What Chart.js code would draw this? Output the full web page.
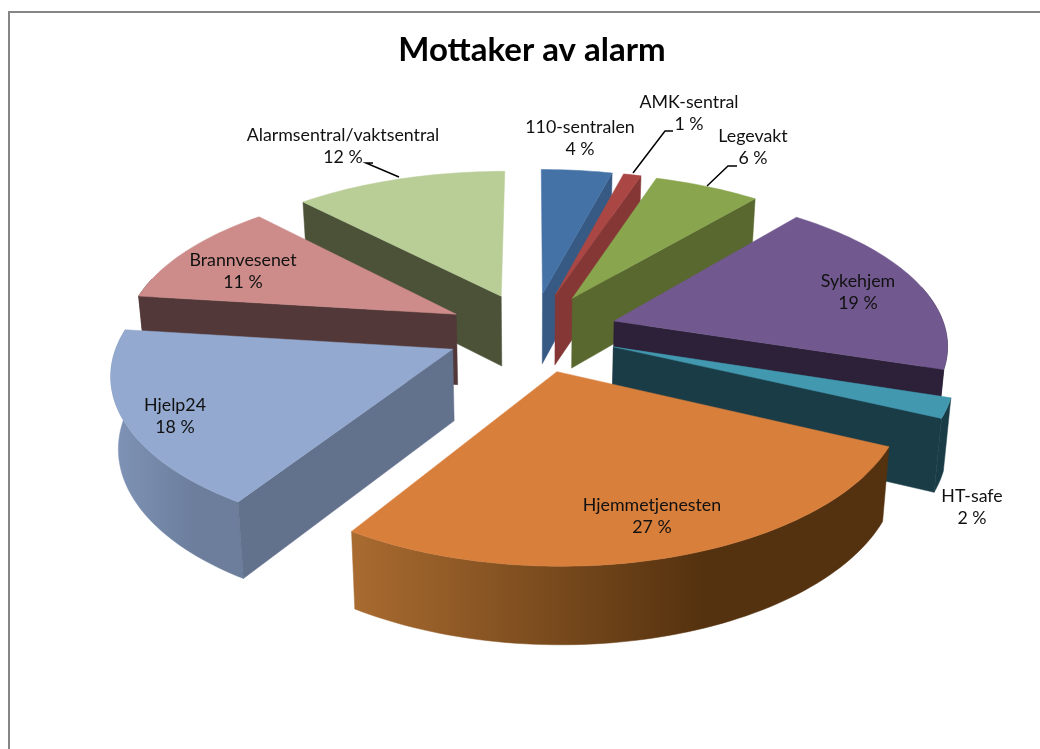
<!DOCTYPE html>
<html>
<head>
<meta charset="utf-8">
<script src="https://cdn.jsdelivr.net/npm/chart.js@4"></script>
<style>
html, body { margin: 0; padding: 0; background: #fff; overflow: hidden; }
canvas { display: block; }
</style>
</head>
<body>
<canvas id="pie-canvas" width="1040" height="749"></canvas>
<script>
var titleText = "Mottaker av alarm";
var categories = ["110-sentralen", "AMK-sentral", "Legevakt", "Sykehjem", "HT-safe", "Hjemmetjenesten", "Hjelp24", "Brannvesenet", "Alarmsentral/vaktsentral"];
var shares = [4, 1, 6, 19, 2, 27, 18, 11, 12];

var topColors = ["#4472a6", "#aa4643", "#89a54e", "#71588f", "#4198af", "#d87f3c", "#93a9cf", "#cd8c8a", "#b9cd96"];
var cutColors = ["#375a85", "#843735", "#58682f", "#2c2138", "#1a3c47", "#52320f", "#62718c", "#523838", "#4b5238"];
var wallStart = ["#375a85", "#843735", "#58682f", "#2c2138", "#1a3c47", "#a96b30", "#8094b8", "#523838", "#4b5238"];
var wallEnd = ["#375a85", "#843735", "#58682f", "#2c2138", "#1a3c47", "#55320f", "#6c7e9c", "#523838", "#4b5238"];

// where the text sits: [centre x, first line y]
var labelSpots = [[580, 127], [689, 102], [753, 136], [858, 281], [972, 496], [652, 505], [175, 405], [243, 260], [343, 135]];
var leaderLines = [
    [[673, 131], [665, 131], [633, 173]],
    [[737, 166], [728, 166], [707, 186]],
    [[373, 163], [366, 163], [399, 177]]
];

// camera of the tilted pie
var view = { cx: 532, cy: 332, rx: 332, ry: 153, perspX: 0.135, perspY: 0.147, depth: 71, taper: 0.982, explode: 0.26 };

function project(px, py) {
    var s = 1 / (1 + view.perspY * py);
    return {
        x: view.cx + view.rx * px / (1 + view.perspX * py),
        y: view.cy - view.ry * py * s,
        h: view.depth * Math.sqrt(s)
    };
}

function lower(p) {
    return { x: view.cx + (p.x - view.cx) * view.taper, y: p.y + p.h };
}

function fillPoly(ctx, pts, fill) {
    ctx.beginPath();
    pts.forEach(function(p, i) {
        if (i == 0) ctx.moveTo(p.x, p.y); else ctx.lineTo(p.x, p.y);
    });
    ctx.closePath();
    ctx.fillStyle = fill;
    ctx.fill();
    ctx.strokeStyle = fill;
    ctx.lineWidth = 0.5;
    ctx.stroke();
}

var pie3d = {
    id: "pie3d",
    beforeDraw: function(chart) {
        var ctx = chart.ctx;
        ctx.save();
        ctx.strokeStyle = "#868686";
        ctx.lineWidth = 2;
        ctx.strokeRect(9, 12, 1200, 900);
        ctx.restore();
    },
    beforeDatasetsDraw: function(chart) {
        var ctx = chart.ctx;
        var arcs = chart.getDatasetMeta(0).data;
        var slices = arcs.map(function(arc, i) {
            var a0 = arc.startAngle + Math.PI / 2;
            var a1 = arc.endAngle + Math.PI / 2;
            return { i: i, a0: a0, a1: a1, mid: (a0 + a1) / 2 };
        });
        // back slices first
        slices.sort(function(p, q) { return Math.cos(q.mid) - Math.cos(p.mid); });

        ctx.save();
        slices.forEach(function(sl) {
            var ox = view.explode * Math.sin(sl.mid);
            var oy = view.explode * Math.cos(sl.mid);
            var apex = project(ox, oy);
            var rim = [];
            var steps = Math.max(4, Math.ceil((sl.a1 - sl.a0) * 40));
            for (var k = 0; k <= steps; k++) {
                var a = sl.a0 + (sl.a1 - sl.a0) * k / steps;
                var p = project(ox + Math.sin(a), oy + Math.cos(a));
                p.front = Math.cos(a) < 0.25;
                rim.push(p);
            }

            // outer wall, one polygon so the gradient has no seams
            var xs = rim.map(function(p) { return p.x; });
            var minX = Math.min.apply(null, xs), maxX = Math.max.apply(null, xs);
            var grad = ctx.createLinearGradient(minX, 0, minX + (maxX - minX) * 0.65 + 1, 0);
            grad.addColorStop(0, wallStart[sl.i]);
            grad.addColorStop(1, wallEnd[sl.i]);
            var front = rim.filter(function(p) { return p.front; });
            if (front.length > 1) {
                fillPoly(ctx, front.concat(front.map(lower).reverse()), grad);
            }

            // cut faces: the far edge faces us on the right half, the near edge on the left
            var first = rim[0], last = rim[rim.length - 1];
            if (sl.a1 <= Math.PI) fillPoly(ctx, [apex, last, lower(last), lower(apex)], cutColors[sl.i]);
            if (sl.a0 >= Math.PI) fillPoly(ctx, [apex, first, lower(first), lower(apex)], cutColors[sl.i]);

            // top face
            fillPoly(ctx, [apex].concat(rim), topColors[sl.i]);
        });
        ctx.restore();
        return false;
    },
    afterDraw: function(chart) {
        var ctx = chart.ctx;
        ctx.save();
        ctx.strokeStyle = "#000";
        ctx.lineWidth = 1.5;
        leaderLines.forEach(function(line) {
            ctx.beginPath();
            line.forEach(function(p, i) {
                if (i == 0) ctx.moveTo(p[0], p[1]); else ctx.lineTo(p[0], p[1]);
            });
            ctx.stroke();
        });
        ctx.fillStyle = "#111";
        ctx.font = "17.8px Lato";
        ctx.textAlign = "center";
        ctx.textBaseline = "middle";
        categories.forEach(function(name, i) {
            ctx.fillText(name, labelSpots[i][0], labelSpots[i][1]);
            ctx.fillText(shares[i] + " %", labelSpots[i][0], labelSpots[i][1] + 22);
        });
        ctx.restore();
    }
};

window.onload = function() {
    var ctx = document.getElementById("pie-canvas").getContext("2d");
    window.myPie = new Chart(ctx, {
        type: "pie",
        data: {
            labels: categories,
            datasets: [{ data: shares, backgroundColor: topColors }]
        },
        options: {
            responsive: false,
            animation: false,
            layout: { padding: { left: 24 } },
            plugins: {
                legend: { display: false },
                tooltip: { enabled: false },
                title: {
                    display: true,
                    text: titleText,
                    color: "#000",
                    font: { family: "Lato", size: 33, weight: "bold" },
                    padding: { top: 31, bottom: 10 }
                }
            }
        },
        plugins: [pie3d]
    });
};
</script>
</body>
</html>
